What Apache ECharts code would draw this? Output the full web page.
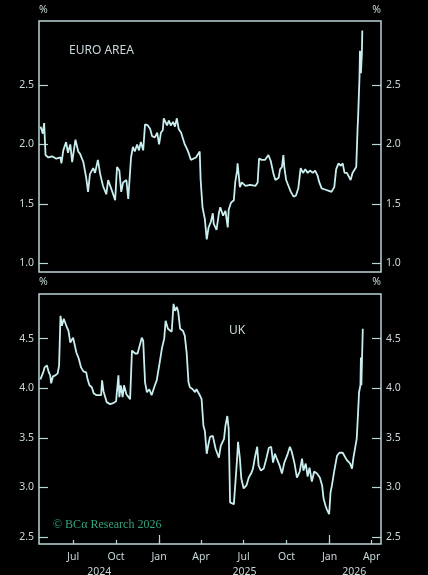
<!DOCTYPE html>
<html><head><meta charset="utf-8">
<script src="https://cdn.jsdelivr.net/npm/echarts@6/dist/echarts.min.js"></script>
<style>html,body{margin:0;padding:0;background:#000;}#c{width:428px;height:575px;}</style>
</head><body><div id="c"></div>
<script>
const euroDates = ['2024-04-22','2024-04-25','2024-04-27','2024-04-30','2024-05-03','2024-05-09','2024-05-17','2024-05-26','2024-06-04','2024-06-06','2024-06-10','2024-06-16','2024-06-20','2024-06-25','2024-06-29','2024-07-06','2024-07-12','2024-07-16','2024-07-23','2024-07-29','2024-08-02','2024-08-06','2024-08-13','2024-08-17','2024-08-23','2024-08-28','2024-09-03','2024-09-10','2024-09-14','2024-09-18','2024-09-23','2024-09-29','2024-10-03','2024-10-08','2024-10-12','2024-10-16','2024-10-23','2024-10-27','2024-11-02','2024-11-06','2024-11-10','2024-11-15','2024-11-19','2024-11-23','2024-11-28','2024-12-02','2024-12-08','2024-12-13','2024-12-17','2024-12-23','2024-12-28','2025-01-01','2025-01-05','2025-01-09','2025-01-11','2025-01-18','2025-01-22','2025-01-26','2025-01-31','2025-02-04','2025-02-08','2025-02-12','2025-02-17','2025-02-21','2025-02-25','2025-03-02','2025-03-06','2025-03-10','2025-03-14','2025-03-21','2025-03-25','2025-03-29','2025-03-31','2025-04-04','2025-04-09','2025-04-13','2025-04-17','2025-04-22','2025-04-26','2025-04-28','2025-05-04','2025-05-09','2025-05-12','2025-05-18','2025-05-23','2025-05-28','2025-05-30','2025-06-04','2025-06-10','2025-06-13','2025-06-17','2025-06-18','2025-06-21','2025-06-23','2025-06-27','2025-07-05','2025-07-15','2025-07-26','2025-07-31','2025-08-03','2025-08-09','2025-08-16','2025-08-23','2025-08-28','2025-09-03','2025-09-07','2025-09-14','2025-09-17','2025-09-21','2025-09-24','2025-09-26','2025-09-30','2025-10-05','2025-10-10','2025-10-16','2025-10-21','2025-10-26','2025-10-31','2025-11-05','2025-11-10','2025-11-15','2025-11-20','2025-11-26','2025-12-01','2025-12-06','2025-12-10','2025-12-15','2025-12-22','2025-12-29','2026-01-05','2026-01-11','2026-01-15','2026-01-20','2026-01-25','2026-01-29','2026-02-02','2026-02-07','2026-02-11','2026-02-15','2026-02-19','2026-02-23','2026-02-27','2026-03-02','2026-03-03','2026-03-06','2026-03-07','2026-03-09','2026-03-11','2026-03-12'];
const euroValues = [2.15,2.12,2.09,2.18,1.91,1.89,1.90,1.88,1.89,1.84,1.95,2.02,1.93,2.00,1.85,2.04,1.94,1.92,1.85,1.72,1.60,1.75,1.80,1.76,1.87,1.75,1.65,1.58,1.70,1.69,1.60,1.53,1.81,1.78,1.60,1.68,1.70,1.54,1.89,1.98,1.94,2.00,1.95,2.02,1.95,2.17,2.16,2.13,2.07,2.06,2.10,2.00,2.10,2.12,2.22,2.16,2.20,2.16,2.19,2.15,2.22,2.13,2.10,2.05,2.00,1.96,1.92,1.87,1.87,1.89,1.89,1.94,1.70,1.47,1.37,1.20,1.30,1.35,1.42,1.33,1.28,1.42,1.47,1.40,1.44,1.30,1.45,1.51,1.53,1.68,1.78,1.84,1.84,1.64,1.68,1.65,1.66,1.65,1.68,1.88,1.87,1.87,1.91,1.86,1.75,1.70,1.72,1.79,1.81,1.91,1.81,1.70,1.65,1.60,1.56,1.57,1.63,1.80,1.76,1.79,1.76,1.78,1.76,1.78,1.74,1.68,1.63,1.62,1.61,1.60,1.64,1.79,1.84,1.82,1.84,1.76,1.76,1.77,1.70,1.76,1.75,1.81,2.15,2.23,2.57,2.79,2.60,2.76,2.96];

const ukDates = ['2024-04-22','2024-04-28','2024-05-01','2024-05-06','2024-05-10','2024-05-13','2024-05-15','2024-05-19','2024-05-24','2024-05-29','2024-06-01','2024-06-04','2024-06-07','2024-06-11','2024-06-14','2024-06-18','2024-06-21','2024-06-25','2024-06-29','2024-07-01','2024-07-04','2024-07-08','2024-07-13','2024-07-18','2024-07-23','2024-07-29','2024-08-01','2024-08-05','2024-08-10','2024-08-14','2024-08-20','2024-08-24','2024-08-30','2024-09-01','2024-09-04','2024-09-08','2024-09-11','2024-09-18','2024-09-25','2024-10-01','2024-10-06','2024-10-08','2024-10-11','2024-10-15','2024-10-18','2024-10-23','2024-10-26','2024-10-31','2024-11-04','2024-11-07','2024-11-11','2024-11-16','2024-11-20','2024-11-25','2024-11-28','2024-12-02','2024-12-06','2024-12-11','2024-12-16','2024-12-20','2024-12-23','2024-12-27','2025-01-02','2025-01-07','2025-01-12','2025-01-15','2025-01-20','2025-01-24','2025-01-28','2025-02-01','2025-02-04','2025-02-08','2025-02-11','2025-02-15','2025-02-21','2025-02-25','2025-03-01','2025-03-05','2025-03-08','2025-03-14','2025-03-19','2025-03-22','2025-03-28','2025-04-02','2025-04-06','2025-04-09','2025-04-13','2025-04-16','2025-04-20','2025-04-26','2025-04-28','2025-05-02','2025-05-05','2025-05-09','2025-05-13','2025-05-16','2025-05-20','2025-05-23','2025-05-27','2025-05-30','2025-06-02','2025-06-06','2025-06-10','2025-06-14','2025-06-17','2025-06-19','2025-06-23','2025-06-26','2025-07-01','2025-07-07','2025-07-12','2025-07-17','2025-07-21','2025-07-25','2025-07-30','2025-08-02','2025-08-07','2025-08-13','2025-08-19','2025-08-24','2025-08-29','2025-09-02','2025-09-06','2025-09-10','2025-09-16','2025-09-21','2025-09-26','2025-10-02','2025-10-08','2025-10-12','2025-10-18','2025-10-23','2025-10-29','2025-11-03','2025-11-06','2025-11-11','2025-11-15','2025-11-19','2025-11-24','2025-11-29','2025-12-05','2025-12-11','2025-12-16','2025-12-19','2025-12-23','2025-12-26','2025-12-31','2026-01-03','2026-01-06','2026-01-10','2026-01-13','2026-01-17','2026-01-22','2026-01-29','2026-02-04','2026-02-08','2026-02-14','2026-02-18','2026-02-21','2026-02-25','2026-02-28','2026-03-03','2026-03-05','2026-03-08','2026-03-09','2026-03-10','2026-03-13'];
const ukValues = [4.09,4.16,4.21,4.23,4.16,4.13,4.05,4.12,4.13,4.15,4.23,4.73,4.63,4.70,4.68,4.61,4.58,4.46,4.45,4.51,4.49,4.36,4.30,4.21,4.17,4.16,4.09,4.03,4.01,3.95,3.93,3.91,3.93,4.08,3.97,3.95,3.86,3.84,3.85,3.87,4.13,3.91,4.03,3.91,4.03,3.94,3.93,3.89,4.38,4.40,4.35,4.35,4.36,4.51,4.48,4.06,3.96,3.99,3.93,3.91,4.03,4.08,4.25,4.40,4.50,4.68,4.60,4.58,4.57,4.85,4.78,4.82,4.77,4.60,4.58,4.53,4.36,4.06,4.01,3.99,3.96,3.99,3.94,3.89,3.62,3.57,3.34,3.42,3.51,3.52,3.51,3.39,3.40,3.30,3.42,3.41,3.49,3.62,3.72,3.59,2.85,2.87,2.83,3.09,3.29,3.46,3.29,3.09,2.99,3.02,3.10,3.14,3.19,3.30,3.41,3.22,3.17,3.19,3.30,3.40,3.41,3.25,3.34,3.29,3.22,3.14,3.25,3.32,3.41,3.36,3.24,3.10,3.16,3.29,3.17,3.24,3.11,3.20,3.06,3.16,3.14,3.10,3.02,2.89,2.82,2.78,2.73,2.95,3.02,3.14,3.22,3.32,3.35,3.35,3.30,3.27,3.24,3.19,3.30,3.29,3.49,3.76,3.96,4.03,4.31,4.03,4.60];

const euroTicks = [1.0, 1.5, 2.0, 2.5];
const ukTicks = [2.5, 3.0, 3.5, 4.0, 4.5];
const quarterTicks = ['2024-07-01','2024-10-01','2025-01-01','2025-04-01','2025-07-01','2025-10-01','2026-01-01','2026-04-01'];
const janTicks = ['2025-01-01','2026-01-01'];
const yearLabelDates = ['2024-08-26','2025-07-03','2026-02-23'];
const monthNames = ['Jan','Feb','Mar','Apr','May','Jun','Jul','Aug','Sep','Oct','Nov','Dec'];

const t = s => new Date(s + 'T00:00:00').getTime();
const xMin = t('2024-04-19'), xMax = t('2026-04-21');
const lineColor = '#c9eef0';
const axisColor = '#b9d5d8';
const textColor = '#c8d8da';
const fontFam = '"Noto Sans", "Open Sans", sans-serif';

const chart = echarts.init(document.getElementById('c'), null, {renderer: 'canvas'});

function yAxisDef(gridIndex, pos, ticks, min, max) {
  return {
    type: 'value', gridIndex, position: pos, min, max,
    splitLine: {show: false},
    axisLine: {show: false},
    axisTick: {show: true, inside: true, length: 9, customValues: ticks, lineStyle: {color: axisColor, width: 1.2}},
    axisLabel: {show: true, customValues: ticks, margin: 5, color: textColor, fontSize: 10.5, fontFamily: fontFam,
      formatter: v => Number(v).toFixed(1)}
  };
}
function xAxisBase(gridIndex) {
  return {type: 'value', gridIndex, position: 'bottom', min: xMin, max: xMax, splitLine: {show: false}, axisLine: {show: false}};
}

const option = {
  backgroundColor: '#000',
  animation: false,
  grid: [
    {left: 39, top: 21, width: 342, height: 251, containLabel: false, outerBoundsMode: 'none', show: true, borderColor: axisColor, borderWidth: 1.5, backgroundColor: 'transparent'},
    {left: 39, top: 294, width: 342, height: 250, containLabel: false, outerBoundsMode: 'none', show: true, borderColor: axisColor, borderWidth: 1.5, backgroundColor: 'transparent'}
  ],
  xAxis: [
    Object.assign(xAxisBase(0), {axisTick: {show: false}, axisLabel: {show: false}}),
    Object.assign(xAxisBase(1), {
      axisTick: {show: true, inside: true, length: 4, customValues: quarterTicks.map(t), lineStyle: {color: axisColor, width: 1.2}},
      axisLabel: {show: true, customValues: quarterTicks.map(t), margin: 8, color: textColor, fontSize: 10.5, fontFamily: fontFam,
        formatter: v => monthNames[new Date(Number(v)).getMonth()]}
    }),
    Object.assign(xAxisBase(1), {
      axisTick: {show: true, inside: true, length: 9, customValues: janTicks.map(t), lineStyle: {color: axisColor, width: 1.2}},
      axisLabel: {show: true, customValues: yearLabelDates.map(t), margin: 23, color: textColor, fontSize: 10.5, fontFamily: fontFam,
        formatter: v => String(new Date(Number(v)).getFullYear())}
    })
  ],
  yAxis: [
    yAxisDef(0, 'left', euroTicks, 0.925, 3.04),
    yAxisDef(0, 'right', euroTicks, 0.925, 3.04),
    yAxisDef(1, 'left', ukTicks, 2.43, 4.95),
    yAxisDef(1, 'right', ukTicks, 2.43, 4.95)
  ],
  title: [
    {text: 'EURO AREA', left: 69, top: 45, padding: 0, textStyle: {color: textColor, fontSize: 12, fontWeight: 'normal', fontFamily: fontFam}},
    {text: 'UK', left: 229, top: 325, padding: 0, textStyle: {color: textColor, fontSize: 12, fontWeight: 'normal', fontFamily: fontFam}}
  ],
  graphic: [
    {type: 'text', left: 39, top: 5, style: {text: '%', fill: textColor, fontSize: 10.5, fontFamily: fontFam}},
    {type: 'text', right: 47, top: 5, style: {text: '%', fill: textColor, fontSize: 10.5, fontFamily: fontFam}},
    {type: 'text', left: 39, top: 277, style: {text: '%', fill: textColor, fontSize: 10.5, fontFamily: fontFam}},
    {type: 'text', right: 47, top: 277, style: {text: '%', fill: textColor, fontSize: 10.5, fontFamily: fontFam}},
    {type: 'text', left: 53, top: 519, style: {text: '© BCα Research 2026', fill: '#34a27a', fontSize: 12, fontFamily: '"Liberation Serif", "DejaVu Serif", serif'}}
  ],
  series: [
    {type: 'line', xAxisIndex: 0, yAxisIndex: 0, showSymbol: false, symbol: 'none',
      lineStyle: {color: lineColor, width: 1.8}, data: euroDates.map((d, i) => [t(d), euroValues[i]])},
    {type: 'line', xAxisIndex: 1, yAxisIndex: 2, showSymbol: false, symbol: 'none',
      lineStyle: {color: lineColor, width: 1.8}, data: ukDates.map((d, i) => [t(d), ukValues[i]])}
  ]
};
chart.setOption(option);
</script>
</body></html>
